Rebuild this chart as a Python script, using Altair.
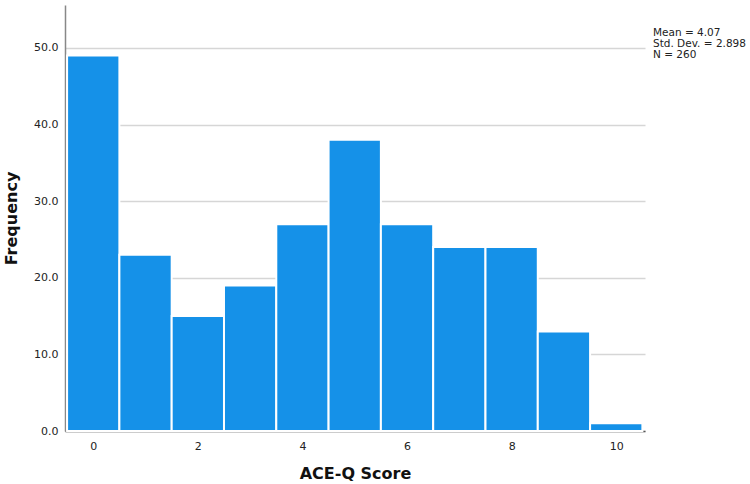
import altair as alt
import pandas as pd

scores = [0, 1, 2, 3, 4, 5, 6, 7, 8, 9, 10]
freqs = [49, 23, 15, 19, 27, 38, 27, 24, 24, 13, 1]
y_ticks = [0, 10, 20, 30, 40, 50]
x_ticks = [0, 2, 4, 6, 8, 10]
stats_lines = ["Mean = 4.07", "Std. Dev. = 2.898", "N = 260"]

df = pd.DataFrame({"score": scores, "freq": freqs})
df["lo"] = df["score"] - 0.5
df["hi"] = df["score"] + 0.5

FONT = "DejaVu Sans"

bars = alt.Chart(df).mark_rect(color="#1591E8", stroke="white", strokeWidth=2).encode(
    x=alt.X("lo:Q", scale=alt.Scale(domain=[-0.54, 10.55], nice=False, zero=False),
            axis=alt.Axis(values=x_ticks, format="d", ticks=False, grid=False,
                          title="ACE-Q Score", titleFont=FONT, titleFontSize=16,
                          titleFontWeight="bold", titleColor="#111", titlePadding=14,
                          labelFont=FONT, labelFontSize=11, labelColor="#222",
                          labelPadding=9, domainColor="#555", domainWidth=1.5)),
    x2="hi:Q",
    y=alt.Y("freq:Q", scale=alt.Scale(domain=[0, 55.6], nice=False),
            axis=alt.Axis(values=y_ticks, format=".1f", ticks=False, grid=True,
                          gridColor="#d6d6d6", gridWidth=1.5,
                          title="Frequency", titleFont=FONT, titleFontSize=16,
                          titleFontWeight="bold", titleColor="#111", titlePadding=14,
                          labelFont=FONT, labelFontSize=11, labelColor="#222",
                          labelPadding=7, domainColor="#888", domainWidth=1.5)),
)

stats_df = pd.DataFrame({"k": [0]})
stats = alt.Chart(stats_df).mark_text(
    text=stats_lines, align="left", baseline="alphabetic", font=FONT, fontSize=10.5,
    lineHeight=11, color="#222"
).encode(x=alt.value(588), y=alt.value(31))

chart = alt.layer(bars, stats).properties(
    width=580, height=426,
    autosize=alt.AutoSizeParams(type="none"),
    padding={"left": 65, "top": 5, "right": 105, "bottom": 53},
).configure(background="white").configure_view(strokeWidth=0, stroke="transparent")

chart.save("out.html", embed_options={"renderer": "svg", "actions": False})
